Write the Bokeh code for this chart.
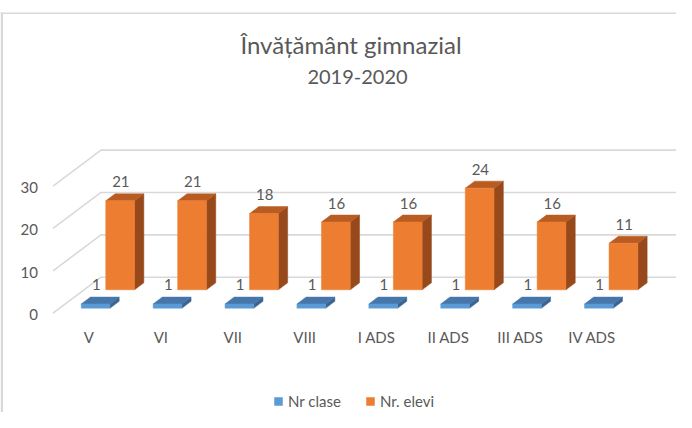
from bokeh.plotting import figure
from bokeh.models import Range1d, Legend, LegendItem
from bokeh.core.properties import value
from bokeh.embed import file_html
from bokeh.resources import INLINE

# ---------------- data ----------------
categories = ["V", "VI", "VII", "VIII", "I ADS", "II ADS", "III ADS", "IV ADS"]
nr_clase = [1, 1, 1, 1, 1, 1, 1, 1]
nr_elevi = [21, 21, 18, 16, 16, 24, 16, 11]
y_ticks = [0, 10, 20, 30]
series_names = ["Nr clase", "Nr. elevi"]
title_lines = ["Învățământ gimnazial", "2019-2020"]

# ---------------- layout constants (picture pixels) ----------------
W, H = 676, 412
FIG_L, FIG_T = 0, 0
PX0 = 52.5          # x of category origin on front plane
PX_PER_CAT = 71.9
PY0 = 312.7         # y of value 0 on front plane
PX_PER_VAL = 4.236

def px2x(px):
    return (px - PX0) / PX_PER_CAT

def py2y(py):
    return (PY0 - py) / PX_PER_VAL

x_start, x_end = px2x(FIG_L), px2x(FIG_L + W)
y_start, y_end = py2y(FIG_T + H), py2y(FIG_T)

DEPTH_DX = 48 / PX_PER_CAT
DEPTH_DY = 36 / PX_PER_VAL

def proj(c, v, d):
    return c + DEPTH_DX * d, v + DEPTH_DY * d

TEXT = "#595959"
GRID = "#D9D9D9"
FONT = value("Lato")

p = figure(width=W, height=H, x_range=Range1d(x_start, x_end), y_range=Range1d(y_start, y_end),
           output_backend="svg", toolbar_location=None, x_axis_location=None, y_axis_location=None,
           min_border=0, min_border_left=0, min_border_right=0, min_border_top=0, min_border_bottom=0)
p.grid.visible = False
p.outline_line_color = None
p.background_fill_color = "white"
p.border_fill_color = "white"

# chart border (top and left)
p.line([x_start, x_end], [py2y(12.8), py2y(12.8)], line_color=GRID, line_width=1.5)
p.line([px2x(1.3), px2x(1.3)], [py2y(12), y_start], line_color=GRID, line_width=2.5)

# gridlines: left wall + back wall
n = len(categories)
gx, gy = [], []
for t in y_ticks:
    a = proj(0, t, 0)
    b = proj(0, t, 1)
    c = proj(n, t, 1)
    gx.append([a[0], b[0], c[0]])
    gy.append([a[1], b[1], c[1]])
p.multi_line(gx, gy, line_color=GRID, line_width=1.6)

# y tick labels
p.text(x=[px2x(37.5)] * len(y_ticks), y=[t - 0.3 for t in y_ticks], text=[str(t) for t in y_ticks],
       text_align="right", text_baseline="middle", text_font=FONT, text_font_size="15px", text_color=TEXT)

# category labels
p.text(x=[i + 0.5 for i in range(n)], y=[py2y(336.7)] * n, text=categories,
       text_align="center", text_baseline="middle", text_font=FONT, text_font_size="15px", text_color=TEXT)

def bar_faces(vals, d0, d1, width=0.4):
    f, t, s = ([], []), ([], []), ([], [])
    for i, val in enumerate(vals):
        c0, c1 = i + 0.5 - width / 2, i + 0.5 + width / 2
        faces = [
            [proj(c0, 0, d0), proj(c1, 0, d0), proj(c1, val, d0), proj(c0, val, d0)],
            [proj(c0, val, d0), proj(c1, val, d0), proj(c1, val, d1), proj(c0, val, d1)],
            [proj(c1, 0, d0), proj(c1, 0, d1), proj(c1, val, d1), proj(c1, val, d0)],
        ]
        for store, face in zip((f, t, s), faces):
            store[0].append([pt[0] for pt in face])
            store[1].append([pt[1] for pt in face])
    return f, t, s

series = [
    (nr_elevi, 0.65, 0.844, ("#ED7D31", "#B95C22", "#97491B")),
    (nr_clase, 0.139, 0.33, ("#5B9BD5", "#4676AA", "#3A6591")),
]
front_renderers = {}
for vals, d0, d1, (cf, ct, cs) in series:
    f, t, s = bar_faces(vals, d0, d1)
    p.patches(s[0], s[1], fill_color=cs, line_color=cs, line_width=0.5)
    p.patches(t[0], t[1], fill_color=ct, line_color=ct, line_width=0.5)
    fr = p.patches(f[0], f[1], fill_color=cf, line_color=cf, line_width=0.5)
    front_renderers[id(vals)] = fr
    lx, ly = [], []
    for i, val in enumerate(vals):
        x, y = proj(i + 0.5, val, d0)
        lx.append(x + 0.01)
        ly.append(y + 19 / PX_PER_VAL)
    p.text(x=lx, y=ly, text=[str(v) for v in vals], text_align="center", text_baseline="middle",
           text_font=FONT, text_font_size="15px", text_color=TEXT)

# title
p.text(x=[px2x(350.5)], y=[py2y(43.5)], text=[title_lines[0]], text_align="center", text_baseline="middle",
       text_font=FONT, text_font_size="24px", text_color=TEXT)
p.text(x=[px2x(357)], y=[py2y(76.5)], text=[title_lines[1]], text_align="center", text_baseline="middle",
       text_font=FONT, text_font_size="20px", text_color=TEXT)

legend = Legend(items=[LegendItem(label=series_names[0], renderers=[front_renderers[id(nr_clase)]]),
                       LegendItem(label=series_names[1], renderers=[front_renderers[id(nr_elevi)]])],
                orientation="horizontal", location=(273, 2), padding=0, margin=0, spacing=24,
                glyph_width=10, glyph_height=10, label_standoff=5, label_text_font="Lato",
                label_text_font_size="15px", label_text_color=TEXT, border_line_color=None,
                background_fill_alpha=0)
p.add_layout(legend)

open("out.html", "w").write(file_html(p, INLINE))
